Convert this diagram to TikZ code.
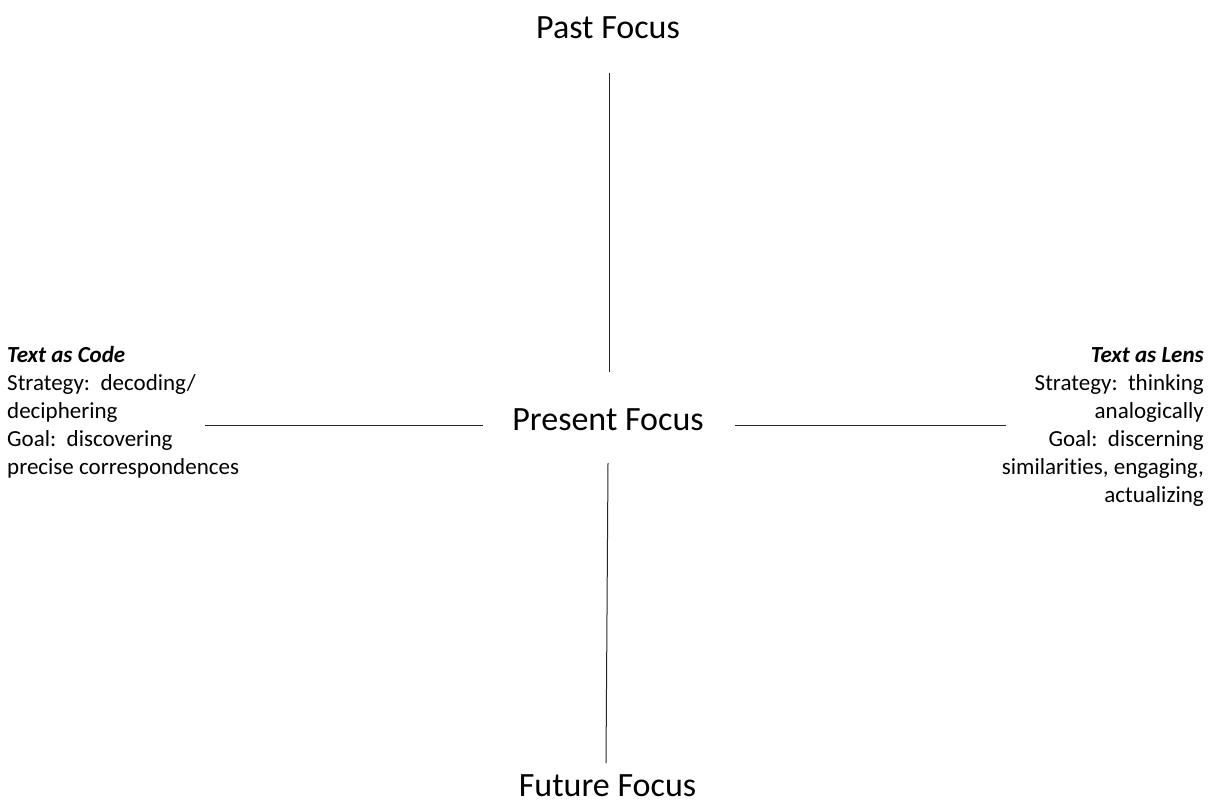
\documentclass[tikz,border=0pt]{standalone}
\usepackage{fontspec}
\setmainfont{Carlito}[Ligatures=NoCommon]
\begin{document}
\begin{tikzpicture}[x=1pt,y=-1pt,
  axis/.style={draw=black!85,line width=1pt},
  biglabel/.style={inner sep=0pt,anchor=base,font=\fontsize{34}{40}\selectfont},
  sidetext/.style={inner sep=0pt,font=\fontsize{23}{28}\selectfont}]
\useasboundingbox (0,0) rectangle (1212,804);
\node[biglabel] (past) at (608,38) {Past Focus};
\node[biglabel] (present) at (608,430) {Present Focus};
\node[biglabel] (future) at (607.5,796) {Future Focus};
\node[sidetext,anchor=base west,align=left] (code) at (7,474)
  {\textbf{\textit{Text as Code}}\\ Strategy:\ \ decoding/\\ deciphering\\ Goal:\ \ discovering\\ precise correspondences};
\node[sidetext,anchor=base east,align=right] (lens) at (1204,502)
  {\textbf{\textit{Text as Lens}}\\ Strategy:\ \ thinking\\ analogically\\ Goal:\ \ discerning\\ similarities, engaging,\\ actualizing};
\coordinate (vt1) at (609,73);
\coordinate (vt2) at (609,372);
\coordinate (vb1) at (608,463);
\coordinate (vb2) at (606,763);
\coordinate (hl1) at (205,425);
\coordinate (hl2) at (483,425);
\coordinate (hr1) at (735,425);
\coordinate (hr2) at (1006,425);
\draw[axis] (vt1) -- (vt2);
\draw[axis] (vb1) -- (vb2);
\draw[axis] (hl1) -- (hl2);
\draw[axis] (hr1) -- (hr2);
\end{tikzpicture}
\end{document}
